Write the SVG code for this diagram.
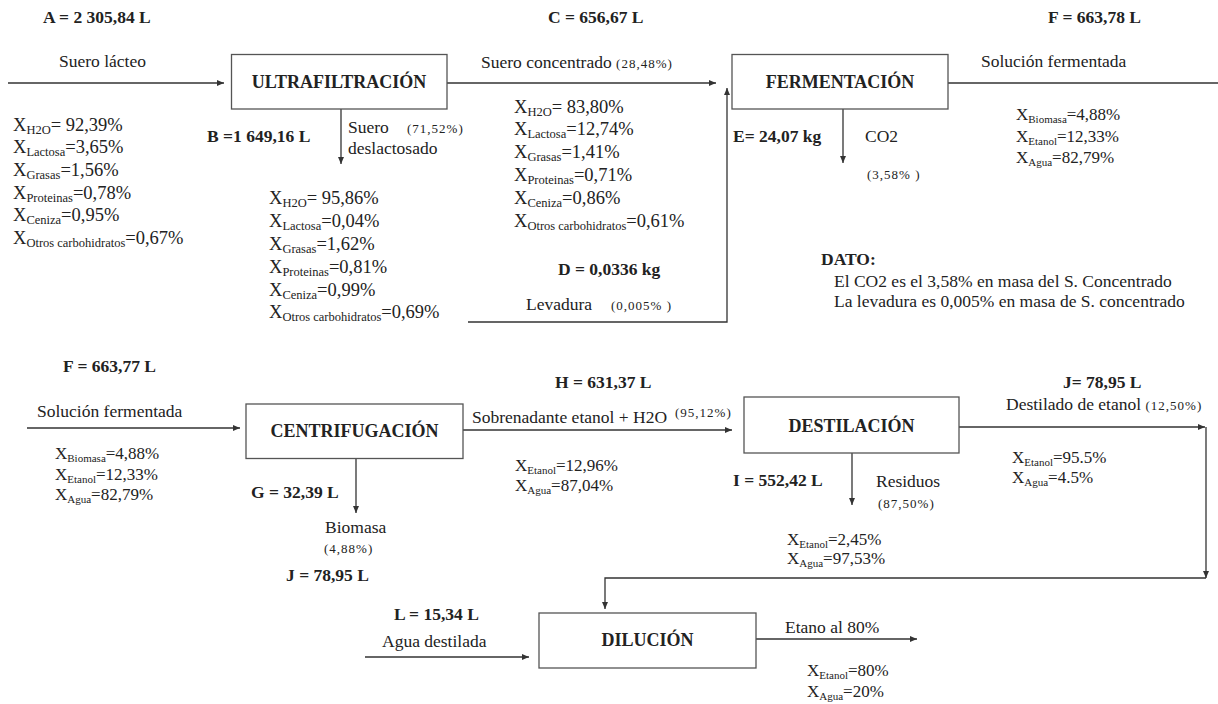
<svg xmlns="http://www.w3.org/2000/svg" width="1218" height="704" viewBox="0 0 1218 704">
<defs>
<marker id="ah" markerUnits="userSpaceOnUse" markerWidth="7" markerHeight="6" refX="7" refY="3" orient="auto">
<path d="M0,0 L7,3 L0,6 z" fill="#333"/>
</marker>
<style>
.t{font-family:"Liberation Serif","Times New Roman",serif;font-size:17.5px;fill:#222}
.b{font-weight:bold;font-size:17.5px}
.title{font-weight:bold;font-size:18px;text-anchor:middle}
.pct{font-size:13px;letter-spacing:1px}
.x1{font-size:18.5px}
.s1{font-size:12.5px}
.x2{font-size:17px}
.s2{font-size:11px}
.box{fill:#fff;stroke:#555;stroke-width:1.3}
.conn{stroke:#333;stroke-width:1.3;fill:none}
</style>
</defs>
<rect width="1218" height="704" fill="#fff"/>

<g id="connectors">
<path class="conn" d="M8,83 H224" marker-end="url(#ah)"/>
<path class="conn" d="M447,83 H716" marker-end="url(#ah)"/>
<path class="conn" d="M341,109 V164" marker-end="url(#ah)"/>
<path class="conn" d="M468,322 H727 V88" marker-end="url(#ah)"/>
<path class="conn" d="M843,109 V163" marker-end="url(#ah)"/>
<path class="conn" d="M948,83 H1218"/>
<path class="conn" d="M27,428 H240" marker-end="url(#ah)"/>
<path class="conn" d="M463,430 H732" marker-end="url(#ah)"/>
<path class="conn" d="M356,458 V513" marker-end="url(#ah)"/>
<path class="conn" d="M959,427 H1205" marker-end="url(#ah)"/>
<path class="conn" d="M852,453 V505" marker-end="url(#ah)"/>
<path class="conn" d="M1206,427 V578" marker-end="url(#ah)"/>
<path class="conn" d="M1206,578 H605 V609" marker-end="url(#ah)"/>
<path class="conn" d="M365,657 H529" marker-end="url(#ah)"/>
<path class="conn" d="M756,639 H917" marker-end="url(#ah)"/>
</g>

<g id="n-ultrafiltracion">
<rect class="box" x="231.5" y="54.5" width="215.5" height="54.5"/>
<text class="t title" x="339" y="88">ULTRAFILTRACIÓN</text>
</g>
<g id="n-fermentacion">
<rect class="box" x="732" y="54.5" width="216" height="54.5"/>
<text class="t title" x="840" y="88">FERMENTACIÓN</text>
</g>
<g id="n-centrifugacion">
<rect class="box" x="246" y="404" width="217" height="54.5"/>
<text class="t title" x="354.5" y="437">CENTRIFUGACIÓN</text>
</g>
<g id="n-destilacion">
<rect class="box" x="744" y="397" width="215" height="56"/>
<text class="t title" x="851.5" y="432">DESTILACIÓN</text>
</g>
<g id="n-dilucion">
<rect class="box" x="539" y="613" width="217" height="55"/>
<text class="t title" x="647.5" y="646">DILUCIÓN</text>
</g>

<g id="stream-A">
<text class="t b" x="43" y="23">A = 2 305,84 L</text>
<text class="t" x="59" y="67">Suero lácteo</text>
<text class="t x1" x="13" y="131">X<tspan class="s1" dy="3">H2O</tspan><tspan dy="-3">= 92,39%</tspan></text>
<text class="t x1" x="13" y="153">X<tspan class="s1" dy="3">Lactosa</tspan><tspan dy="-3">=3,65%</tspan></text>
<text class="t x1" x="13" y="176">X<tspan class="s1" dy="3">Grasas</tspan><tspan dy="-3">=1,56%</tspan></text>
<text class="t x1" x="13" y="199">X<tspan class="s1" dy="3">Proteinas</tspan><tspan dy="-3">=0,78%</tspan></text>
<text class="t x1" x="13" y="221">X<tspan class="s1" dy="3">Ceniza</tspan><tspan dy="-3">=0,95%</tspan></text>
<text class="t x1" x="13" y="244">X<tspan class="s1" dy="3">Otros carbohidratos</tspan><tspan dy="-3">=0,67%</tspan></text>
</g>

<g id="stream-B">
<text class="t b" x="207" y="142">B =1 649,16 L</text>
<text class="t" x="348" y="133">Suero</text>
<text class="t pct" x="407" y="133">(71,52%)</text>
<text class="t" x="348" y="154">deslactosado</text>
<text class="t x1" x="269" y="204">X<tspan class="s1" dy="3">H2O</tspan><tspan dy="-3">= 95,86%</tspan></text>
<text class="t x1" x="269" y="227">X<tspan class="s1" dy="3">Lactosa</tspan><tspan dy="-3">=0,04%</tspan></text>
<text class="t x1" x="269" y="250">X<tspan class="s1" dy="3">Grasas</tspan><tspan dy="-3">=1,62%</tspan></text>
<text class="t x1" x="269" y="273">X<tspan class="s1" dy="3">Proteinas</tspan><tspan dy="-3">=0,81%</tspan></text>
<text class="t x1" x="269" y="296">X<tspan class="s1" dy="3">Ceniza</tspan><tspan dy="-3">=0,99%</tspan></text>
<text class="t x1" x="269" y="318">X<tspan class="s1" dy="3">Otros carbohidratos</tspan><tspan dy="-3">=0,69%</tspan></text>
</g>

<g id="stream-C">
<text class="t b" x="548" y="23">C = 656,67 L</text>
<text class="t" x="481" y="68">Suero concentrado <tspan class="pct">(28,48%)</tspan></text>
<text class="t x1" x="514" y="113">X<tspan class="s1" dy="3">H2O</tspan><tspan dy="-3">= 83,80%</tspan></text>
<text class="t x1" x="514" y="135">X<tspan class="s1" dy="3">Lactosa</tspan><tspan dy="-3">=12,74%</tspan></text>
<text class="t x1" x="514" y="158">X<tspan class="s1" dy="3">Grasas</tspan><tspan dy="-3">=1,41%</tspan></text>
<text class="t x1" x="514" y="181">X<tspan class="s1" dy="3">Proteinas</tspan><tspan dy="-3">=0,71%</tspan></text>
<text class="t x1" x="514" y="204">X<tspan class="s1" dy="3">Ceniza</tspan><tspan dy="-3">=0,86%</tspan></text>
<text class="t x1" x="514" y="227">X<tspan class="s1" dy="3">Otros carbohidratos</tspan><tspan dy="-3">=0,61%</tspan></text>
</g>

<g id="stream-D">
<text class="t b" x="558" y="275">D = 0,0336 kg</text>
<text class="t" x="526" y="310">Levadura</text>
<text class="t pct" x="611" y="310">(0,005% )</text>
</g>

<g id="stream-E">
<text class="t b" x="733" y="142">E= 24,07 kg</text>
<text class="t" x="865" y="142">CO2</text>
<text class="t pct" x="867" y="179">(3,58% )</text>
</g>

<g id="stream-F">
<text class="t b" x="1048" y="23">F = 663,78 L</text>
<text class="t" x="981" y="67">Solución fermentada</text>
<text class="t x2" x="1016" y="120">X<tspan class="s2" dy="3">Biomasa</tspan><tspan dy="-3">=4,88%</tspan></text>
<text class="t x2" x="1016" y="142">X<tspan class="s2" dy="3">Etanol</tspan><tspan dy="-3">=12,33%</tspan></text>
<text class="t x2" x="1016" y="163">X<tspan class="s2" dy="3">Agua</tspan><tspan dy="-3">=82,79%</tspan></text>
</g>

<g id="dato">
<text class="t b" x="821" y="265">DATO:</text>
<text class="t" x="834" y="287">El CO2 es el 3,58% en masa del S. Concentrado</text>
<text class="t" x="834" y="307">La levadura es 0,005% en masa de S. concentrado</text>
</g>

<g id="stream-F2">
<text class="t b" x="63" y="372">F = 663,77 L</text>
<text class="t" x="37" y="417">Solución fermentada</text>
<text class="t x2" x="55" y="459">X<tspan class="s2" dy="3">Biomasa</tspan><tspan dy="-3">=4,88%</tspan></text>
<text class="t x2" x="55" y="480">X<tspan class="s2" dy="3">Etanol</tspan><tspan dy="-3">=12,33%</tspan></text>
<text class="t x2" x="55" y="500">X<tspan class="s2" dy="3">Agua</tspan><tspan dy="-3">=82,79%</tspan></text>
</g>

<g id="stream-G">
<text class="t b" x="251" y="498">G = 32,39 L</text>
<text class="t" x="325" y="533">Biomasa</text>
<text class="t pct" x="324" y="553">(4,88%)</text>
<text class="t b" x="286" y="581">J = 78,95 L</text>
</g>

<g id="stream-H">
<text class="t b" x="555" y="388">H = 631,37 L</text>
<text class="t" x="472" y="423">Sobrenadante etanol + H2O</text>
<text class="t pct" x="675" y="417">(95,12%)</text>
<text class="t x2" x="515" y="471">X<tspan class="s2" dy="3">Etanol</tspan><tspan dy="-3">=12,96%</tspan></text>
<text class="t x2" x="515" y="491">X<tspan class="s2" dy="3">Agua</tspan><tspan dy="-3">=87,04%</tspan></text>
</g>

<g id="stream-I">
<text class="t b" x="733" y="486">I = 552,42 L</text>
<text class="t" x="876" y="487">Residuos</text>
<text class="t pct" x="878" y="508">(87,50%)</text>
<text class="t x2" x="787" y="545">X<tspan class="s2" dy="3">Etanol</tspan><tspan dy="-3">=2,45%</tspan></text>
<text class="t x2" x="787" y="564">X<tspan class="s2" dy="3">Agua</tspan><tspan dy="-3">=97,53%</tspan></text>
</g>

<g id="stream-J">
<text class="t b" x="1063" y="388">J= 78,95 L</text>
<text class="t" x="1006" y="410">Destilado de etanol <tspan class="pct">(12,50%)</tspan></text>
<text class="t x2" x="1012" y="463">X<tspan class="s2" dy="3">Etanol</tspan><tspan dy="-3">=95.5%</tspan></text>
<text class="t x2" x="1012" y="483">X<tspan class="s2" dy="3">Agua</tspan><tspan dy="-3">=4.5%</tspan></text>
</g>

<g id="stream-L">
<text class="t b" x="394" y="620">L = 15,34 L</text>
<text class="t" x="382" y="647">Agua destilada</text>
</g>

<g id="stream-out">
<text class="t" x="785" y="633">Etano al 80%</text>
<text class="t x2" x="807" y="676">X<tspan class="s2" dy="3">Etanol</tspan><tspan dy="-3">=80%</tspan></text>
<text class="t x2" x="807" y="697">X<tspan class="s2" dy="3">Agua</tspan><tspan dy="-3">=20%</tspan></text>
</g>
</svg>
